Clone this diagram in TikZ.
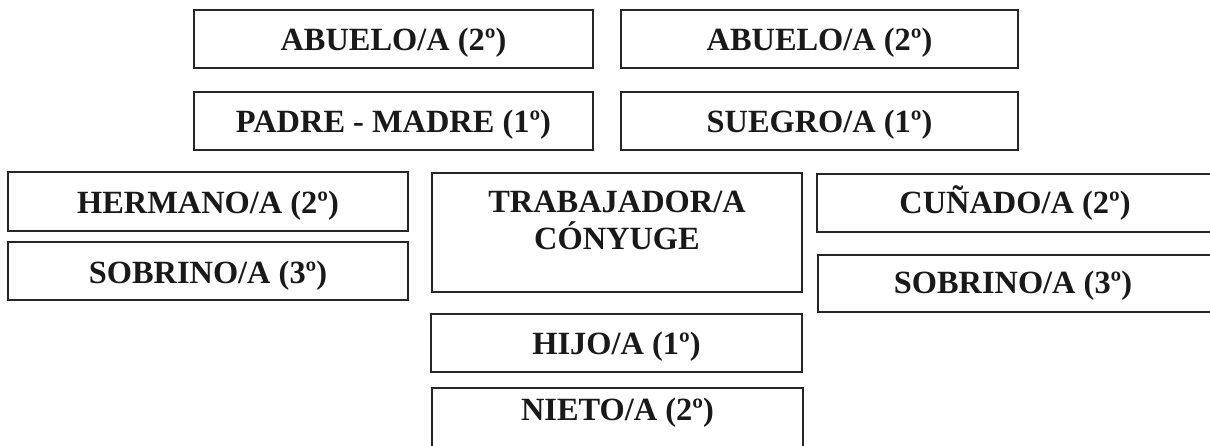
\documentclass[tikz,border=0pt]{standalone}
\usepackage{fontspec}
\setmainfont{Liberation Serif}
\begin{document}
\begin{tikzpicture}[x=1pt,y=-1pt,
  kbox/.style={draw=black!85, line width=1.9pt, inner sep=0pt, fill=white},
  ktext/.style={font=\fontsize{32.4}{37}\selectfont\bfseries, text=black!90, align=center, inner sep=0pt, anchor=base}]
\useasboundingbox (0,0) rectangle (1210,445);
\clip (0,0) rectangle (1210,445);
\fill[white] (0,0) rectangle (1210,445);
% top rows
\node[kbox, minimum width=399pt, minimum height=57.5pt] (ab1) at (393.5,39) {};
\node[ktext] (ab1t) at (393.5,50.5) {ABUELO/A (2º)};
\node[kbox, minimum width=397pt, minimum height=57.5pt] (ab2) at (819.5,39) {};
\node[ktext] (ab2t) at (819.5,50.5) {ABUELO/A (2º)};
\node[kbox, minimum width=399pt, minimum height=57.5pt] (pm) at (393.5,121) {};
\node[ktext] (pmt) at (393.5,132.5) {PADRE - MADRE (1º)};
\node[kbox, minimum width=397pt, minimum height=57.5pt] (sg) at (819.5,121) {};
\node[ktext] (sgt) at (819.5,132.5) {SUEGRO/A (1º)};
% left column
\node[kbox, minimum width=400pt, minimum height=58.5pt] (he) at (208,201.5) {};
\node[ktext] (het) at (208,213.2) {HERMANO/A (2º)};
\node[kbox, minimum width=400pt, minimum height=57.7pt] (so1) at (208,271.2) {};
\node[ktext] (so1t) at (208,283.2) {SOBRINO/A (3º)};
% centre column
\node[kbox, minimum width=370pt, minimum height=119pt] (tr) at (617,232.2) {};
\node[ktext] (trt) at (617,249.3) {TRABAJADOR/A\\CÓNYUGE};
\node[kbox, minimum width=371pt, minimum height=57.5pt] (hi) at (616.5,343) {};
\node[ktext] (hit) at (616.5,354) {HIJO/A (1º)};
\node[kbox, minimum width=371pt, minimum height=64pt] (ni) at (617.5,420) {};
\node[ktext] (nit) at (617.5,420) {NIETO/A (2º)};
% right column
\node[kbox, minimum width=396pt, minimum height=58pt] (cu) at (1015,203) {};
\node[ktext] (cut) at (1015,213.5) {CUÑADO/A (2º)};
\node[kbox, minimum width=394pt, minimum height=57pt] (so2) at (1015,283.5) {};
\node[ktext] (so2t) at (1013,293.5) {SOBRINO/A (3º)};
\end{tikzpicture}
\end{document}
